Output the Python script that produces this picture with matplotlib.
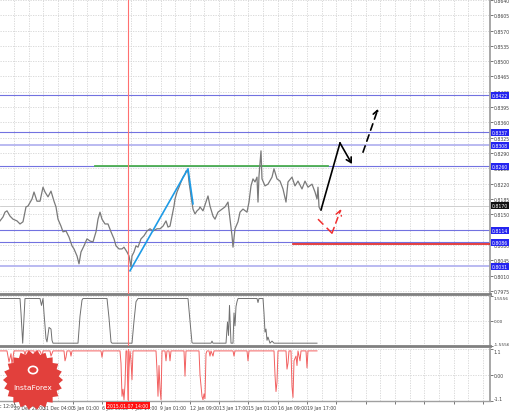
import matplotlib
matplotlib.use('Agg')
import matplotlib.pyplot as plt
import numpy as np
from matplotlib.patches import Polygon, Circle

# main pane: close price (x = bar position on the chart)
price_x = [0, 3, 5, 7, 10, 13, 17, 20, 23, 26, 28, 32, 34, 37, 40, 43, 45, 48, 51, 54,
           56, 58, 61, 63, 66, 69, 72, 74, 77, 79, 81, 84, 87, 90, 93, 96, 98, 100, 102, 105,
           108, 111, 114, 116, 119, 122, 124, 127, 129, 131, 132, 134, 136, 138, 141, 144, 147, 150, 153, 157,
           160, 163, 166, 168, 170, 172, 174, 175, 177, 179, 181, 183, 185, 186, 188, 189, 191, 193, 195, 197,
           199, 200, 203, 207, 208, 210, 213, 215, 218, 222, 225, 228, 230, 232, 233, 235, 238, 240, 243, 247,
           249, 251, 253, 255, 257, 258, 259, 261, 262, 265, 268, 272, 274, 277, 280, 283, 286, 288, 292, 295,
           298, 302, 305, 308, 312, 315, 317, 318, 319, 320]
price_y = [0.8135, 0.8144, 0.8155, 0.8158, 0.8146, 0.8139, 0.8135, 0.8128, 0.8133, 0.8167,
           0.8169, 0.8185, 0.8201, 0.8180, 0.8180, 0.8212, 0.8201, 0.8190, 0.8203, 0.8180,
           0.8167, 0.8139, 0.8123, 0.8110, 0.8112, 0.8098, 0.8078, 0.8071, 0.8055, 0.8037,
           0.8064, 0.8078, 0.8094, 0.8089, 0.8087, 0.8110, 0.8139, 0.8155, 0.8139, 0.8128,
           0.8128, 0.8110, 0.8094, 0.8078, 0.8071, 0.8071, 0.8075, 0.8064, 0.8055, 0.8030,
           0.8055, 0.8064, 0.8078, 0.8075, 0.8094, 0.8101, 0.8112, 0.8117, 0.8112, 0.8117,
           0.8117, 0.8123, 0.8135, 0.8121, 0.8123, 0.8146, 0.8169, 0.8185, 0.8201, 0.8212,
           0.8224, 0.8235, 0.8242, 0.8249, 0.8247, 0.8224, 0.8192, 0.8162, 0.8151, 0.8158,
           0.8162, 0.8167, 0.8158, 0.8185, 0.8192, 0.8169, 0.8146, 0.8139, 0.8155, 0.8162,
           0.8167, 0.8178, 0.8139, 0.8101, 0.8075, 0.8117, 0.8133, 0.8155, 0.8162, 0.8155,
           0.8178, 0.8215, 0.8231, 0.8224, 0.8235, 0.8178, 0.8238, 0.8295, 0.8231, 0.8215,
           0.8219, 0.8235, 0.8254, 0.8231, 0.8226, 0.8208, 0.8178, 0.8224, 0.8235, 0.8215,
           0.8226, 0.8208, 0.8226, 0.8212, 0.8219, 0.8201, 0.8185, 0.8212, 0.8167, 0.8162]

levels = [0.8422, 0.8337, 0.8308, 0.8260, 0.8114, 0.8086, 0.8031]
light_levels = [0.8308, 0.8031]
last_price = 0.8170
green_x, green_y = [95, 328], 0.8260
red_x, red_y = [293, 490], 0.8082

wave_x = [130, 188, 193]
wave_y = [0.8021, 0.8254, 0.8174]
fc_black_x = [321, 340, 352]
fc_black_y = [0.8160, 0.8313, 0.8265]
fc_dash_x = [363, 378]
fc_dash_y = [0.8292, 0.8391]
fc_red_x = [318, 332, 341]
fc_red_y = [0.8139, 0.8107, 0.8162]

cursor_x = 128
cursor_label = '2015.01.07 14:00'

# indicator 1
ind1_x = [0, 20, 21, 22.7, 24, 25, 40, 41.5, 43, 44, 46, 47, 49, 51, 52, 53, 78, 80, 82, 83,
          107, 109, 111, 112, 132, 134, 136, 138, 188, 190, 192, 193, 211, 212, 213, 226, 227.5, 228.5, 229.5, 231,
          233, 234, 235, 236, 237, 238, 257, 258, 259, 263, 264, 265, 266, 267, 268, 270, 272, 274, 317]
ind1_y = [1.40, 1.40, 0.5, -1.38, 0.2, 1.40, 1.40, 0.97, 1.40, 0.5, -1.1, -1.3, -0.4, -0.5, -1.2, -1.38, -1.38, 0.3, 1.3, 1.40,
          1.40, 0.2, -1.3, -1.38, -1.38, 0.0, 1.2, 1.40, 1.40, 0.0, -1.35, -1.38, -1.38, -1.25, -1.38, -1.38, -0.06, -0.9, 0.97, -1.38,
          -1.38, 0.5, -0.3, 0.9, 1.2, 1.40, 1.40, 1.15, 1.40, 1.40, 0.5, -0.69, -0.5, -1.2, -1.0, -1.38, -1.25, -1.38, -1.38]
ind1_ticks = [-1.5556, 0.0, 1.5556]
ind1_labels = ['-1.5556', '0.00', '1.5556']

# indicator 2
ind2_x = [0, 7, 9, 11, 12, 14, 24, 25, 26, 34, 35, 36, 40, 42, 43, 50, 51, 53, 64, 65,
          66, 67, 70, 71, 72, 101, 102, 103, 120, 121, 122, 123, 124, 125, 126, 127, 128, 129, 130, 131,
          132, 133, 156, 157, 158, 159, 160, 161, 162, 165, 166, 167, 169, 170, 171, 184, 185, 186, 199, 200,
          202, 203, 204, 205, 206, 207, 209, 210, 211, 213, 214, 233, 234, 235, 247, 248, 249, 274, 275, 276,
          277, 278, 286, 287, 288, 289, 291, 292, 293, 294, 296, 297, 298, 300, 301, 306, 307, 308, 317]
ind2_y = [1.02, 1.02, 0.55, 0.9, 0.45, 1.02, 1.02, 0.85, 1.02, 1.02, 0.8, 1.02, 1.02, 0.8, 1.02, 1.02, 0.8, 1.02, 1.02, 0.6,
          0.75, 1.02, 1.02, 0.8, 1.02, 1.02, 0.75, 1.02, 1.02, 0.5, -0.9, -0.6, -1.05, -0.4, 1.02, 1.02, -1.05, 0.3, 1.02, 0.6,
          -0.2, 1.02, 1.02, 0.2, -0.9, 0.4, -0.6, -1.05, 1.02, 1.02, 0.6, 1.02, 1.02, 0.6, 1.02, 1.02, -0.05, 1.02, 1.02, 0.0,
          -0.9, -1.05, -0.8, -1.0, 0.9, 1.02, 1.02, 0.8, 1.02, 0.8, 1.02, 1.02, 0.8, 1.02, 1.02, 0.6, 1.02, 1.02, 0.0, -0.7,
          -0.3, 1.02, 1.02, 0.25, 0.5, 1.02, 1.02, -0.5, -0.95, 0.6, 0.8, 0.4, 1.02, 0.6, 1.02, 1.02, 0.3, 1.02, 1.02]
ind2_ticks = [-1.1, 0.0, 1.1]
ind2_labels = ['-1.1', '0.00', '1.1']

time_labels = ['28 Dec 12:00', '29 Dec 20:00', '31 Dec 04:00', '5 Jan 01:00', '6 Jan 09:00', '7 Jan 17:00',
               '9 Jan 01:00', '12 Jan 09:00', '13 Jan 17:00', '15 Jan 01:00', '16 Jan 09:00', '19 Jan 17:00']

W, H = 510, 414
fig = plt.figure(figsize=(W / 100, H / 100), dpi=100)
fig.patch.set_facecolor('white')


def pane(top, bottom):
    return fig.add_axes([0, 1 - bottom / H, 490 / W, (bottom - top) / H])


ax1 = pane(0, 295)
ax2 = pane(297, 347)
ax3 = pane(350, 402)

xmajor = np.arange(14 - 29.3, 490, 29.3)
xminor = xmajor + 14.65
lab_fs = 3.3
for ax in (ax1, ax2, ax3):
    ax.set_xticks(xmajor)
    ax.set_xticks(xminor, minor=True)
    ax.set_xlim(0, 490)
    ax.grid(which='both', color='#d4d4d4', ls=(0, (1.5, 1.5)), lw=0.6)
    ax.set_axisbelow(True)
    ax.yaxis.tick_right()
    ax.tick_params(axis='y', labelsize=lab_fs, length=2, width=0.5, pad=0.8, colors='#404040')
    ax.tick_params(axis='x', which='both', length=0, labelbottom=False)
    for s in ('left', 'top'):
        ax.spines[s].set_visible(False)
    ax.spines['right'].set_color('#a0a0a0')
    ax.spines['right'].set_linewidth(1.3)
    ax.axvline(cursor_x, color='#ff7070', lw=0.8, zorder=4)

for ax in (ax1, ax2):
    ax.spines['bottom'].set_color('#808080')
    ax.spines['bottom'].set_linewidth(2)
ax3.spines['bottom'].set_color('#a0a0a0')
ax3.spines['bottom'].set_linewidth(1)

# main pane
ax1.set_ylim(0.7968, 0.8642)
yt = np.arange(0.7975, 0.8641, 0.0035)
ax1.set_yticks(yt, [f'{v:.4f}' for v in yt])
ax1.axhline(last_price, color='#c8c8c8', lw=0.6)
for lv in levels:
    light = lv in light_levels
    ax1.axhline(lv, color='#b4b4f0' if light else '#7272e0', lw=1.3 if light else 0.8, zorder=2)
ax1.plot(green_x, [green_y] * 2, color='#4cb050', lw=1.3, zorder=3)
ax1.plot(red_x, [red_y] * 2, color='#e02020', lw=1.2, zorder=3)
ax1.plot(price_x, price_y, color='#7a7a7a', lw=0.9, zorder=3)
ax1.plot(wave_x, wave_y, color='#1e9be6', lw=1.2, zorder=3)

head = '->,head_length=0.35,head_width=0.2'
ax1.plot(fc_black_x[:2], fc_black_y[:2], color='black', lw=1.2, zorder=5)
ax1.annotate('', xy=(fc_black_x[2], fc_black_y[2]), xytext=(fc_black_x[1], fc_black_y[1]),
             arrowprops=dict(arrowstyle=head, color='black', lw=1.2, shrinkA=0, shrinkB=0), zorder=5)
ax1.annotate('', xy=(fc_dash_x[1], fc_dash_y[1]), xytext=(fc_dash_x[0], fc_dash_y[0]),
             arrowprops=dict(arrowstyle=head, color='black', lw=1.2, ls=(0, (4, 3)),
                             shrinkA=0, shrinkB=0), zorder=5)
ax1.plot(fc_red_x[:2], fc_red_y[:2], color='#f03030', lw=1.1, ls=(0, (5, 3)), zorder=5)
ax1.annotate('', xy=(fc_red_x[2], fc_red_y[2]), xytext=(fc_red_x[1], fc_red_y[1]),
             arrowprops=dict(arrowstyle=head, color='#f03030', lw=1.1, ls=(0, (4, 3)),
                             shrinkA=0, shrinkB=0), zorder=5)

for lv in levels:
    ax1.text(1.003, lv, f'{lv:.4f}', transform=ax1.get_yaxis_transform(), fontsize=lab_fs,
             color='white', va='center', ha='left', clip_on=False, zorder=6,
             bbox=dict(boxstyle='square,pad=0.2', fc='#2424f0', ec='none'))
ax1.text(1.003, last_price, f'{last_price:.4f}', transform=ax1.get_yaxis_transform(), fontsize=lab_fs,
         color='white', va='center', ha='left', clip_on=False, zorder=6,
         bbox=dict(boxstyle='square,pad=0.2', fc='#101010', ec='none'))

# indicator panes
ax2.set_ylim(-1.5556, 1.5556)
ax2.set_yticks(ind1_ticks, ind1_labels)
ax2.tick_params(axis='y', labelsize=3.1)
ax2.plot(ind1_x, ind1_y, color='#707070', lw=0.7)

ax3.set_ylim(-1.1, 1.1)
ax3.set_yticks(ind2_ticks, ind2_labels)
ax3.plot(ind2_x, ind2_y, color='#f26060', lw=0.7)

# edge labels sit inside their pane
for ax in (ax2, ax3):
    lbls = ax.get_yticklabels()
    lbls[0].set_va('bottom')
    lbls[-1].set_va('top')

ax3.tick_params(axis='x', which='major', length=2, width=0.5, labelbottom=True,
                labelsize=lab_fs, pad=1, colors='#404040')
ax3.set_xticklabels(time_labels + [''] * (len(xmajor) - len(time_labels)), ha='left')
# first label starts left of the chart and is cut by the edge
ax3.text(xmajor[0], -0.045, time_labels[0], transform=ax3.get_xaxis_transform(), fontsize=lab_fs,
         color='#404040', ha='left', va='top', clip_on=False)
ax3.text(cursor_x, -0.04, cursor_label, transform=ax3.get_xaxis_transform(), fontsize=lab_fs,
         color='white', ha='center', va='top', clip_on=False, zorder=6,
         bbox=dict(boxstyle='square,pad=0.25', fc='#ff1010', ec='none'))

# InstaForex badge
cx, cy, R, r, n = 33, 381, 30, 26, 22
ang = np.linspace(0, 2 * np.pi, 2 * n, endpoint=False)
rad = np.where(np.arange(2 * n) % 2 == 0, R, r)
star = np.column_stack([(cx + rad * np.cos(ang)) / W, 1 - (cy + rad * np.sin(ang)) / H])
fig.add_artist(Polygon(star, closed=True, transform=fig.transFigure, fc='#e2403c', ec='none', zorder=10))
fig.add_artist(Circle((cx / W, 1 - 371 / H), 4.5 / W, transform=fig.transFigure,
                      fc='none', ec='white', lw=1.2, zorder=11))
fig.text(cx / W, 1 - 388 / H, 'InstaForex', color='white', fontsize=5.4, ha='center', va='center', zorder=11)

fig.savefig('out.png', dpi=100)
